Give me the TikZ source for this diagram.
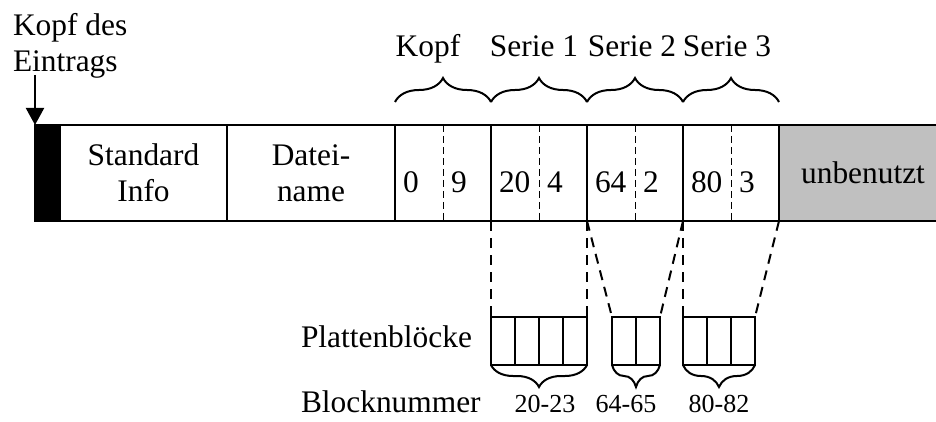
\documentclass[tikz,border=0pt]{standalone}
\usepackage{fontspec}
\setmainfont{Liberation Serif}
\usepackage{xcolor}
\usepackage{tikz}
\usetikzlibrary{arrows.meta,positioning,decorations.pathreplacing}
\definecolor{leer}{HTML}{C0C0C0}

\tikzset{
  cell/.style={draw, line width=1pt, minimum height=48pt, inner sep=0pt, outer sep=0pt,
    anchor=north west, align=center},
  half/.style={minimum width=24pt, minimum height=48pt, inner xsep=4pt, inner ysep=0pt, outer sep=0pt,
    text width=16pt, align=left, text height=20pt, text depth=0pt, anchor=north west},
  block/.style={draw, line width=1pt, minimum width=12pt, minimum height=24pt, inner sep=0pt,
    outer sep=0pt, anchor=north west},
  teiler/.style={line width=.5pt, dash pattern=on 3.5pt off 2pt},
  zeiger/.style={line width=1pt, dash pattern=on 5pt off 3.5pt},
  klammer/.style={decorate, line width=1pt, decoration={brace, amplitude=12pt}},
}

\begin{document}
\begin{tikzpicture}[x=0.5pt,y=-0.5pt,line width=1pt,font=\fontsize{15.7}{18}\selectfont]
\useasboundingbox (0,0) rectangle (936,422);
% Eintrag
\node[cell, fill=black, minimum width=12.5pt] (blk) at (35,125) {};
\node[cell, minimum width=83.5pt] (std) at (blk.north east) {Standard\\Info};
\node[cell, minimum width=84pt] (dat) at (std.north east) {Datei-\\name};
\foreach \nm/\x/\a/\b/\lx/\lab in {kopf/395/0/9/428/Kopf, s1/491/20/4/534/Serie 1,
    s2/587/64/2/632/Serie 2, s3/683/80/3/727/Serie 3}{
  \node[cell, minimum width=48pt] (\nm) at (\x,125) {};
  \node[half] (\nm-a) at (\nm.north west) {\a};
  \node[half] (\nm-b) at (\nm-a.north east) {\b};
  \draw[teiler] (\nm-a.north east) -- (\nm-a.south east);
  \draw[klammer] ([yshift=11.5pt]\nm.north west) -- ([yshift=11.5pt]\nm.north east);
  \node[anchor=base] (\nm-t) at (\lx,57) {\lab};
}
\node[cell, fill=leer, minimum width=84pt] (unb) at (s3.north east) {unbenutzt};

% Kopf des Eintrags
\node[anchor=north west, align=left, inner sep=0pt] (eintrag) at (12,12) {Kopf des\\Eintrags};
\coordinate (pfeil) at (35,75);
\draw[-{Triangle[length=8.5pt,width=9pt]}] (pfeil) -- (blk.north west);

% Plattenbloecke
\foreach \g/\x/\n/\lx/\lab in {1/491/4/545/20-23, 2/612/2/626/64-65, 3/683/3/719/80-82}{
  \foreach \i in {1,...,\n}{
    \node[block] (b\g-\i) at ({\x+24*(\i-1)},317) {};
  }
  \draw[klammer, decoration={mirror, amplitude=11pt}] (b\g-1.south west) -- (b\g-\n.south east);
  \node[anchor=base, font=\fontsize{13}{15}\selectfont] (n\g) at (\lx,412) {\lab};
}
\foreach \s/\g/\n in {s1/1/4, s2/2/2, s3/3/3}{
  \draw[zeiger] (\s.south west) -- (b\g-1.north west);
  \draw[zeiger] (\s.south east) -- (b\g-\n.north east);
}
\node[anchor=base west, inner xsep=0pt] (platten) at (300,347) {Plattenblöcke};
\node[anchor=base west, inner xsep=0pt] (nummer) at (300,412) {Blocknummer};
\end{tikzpicture}
\end{document}
